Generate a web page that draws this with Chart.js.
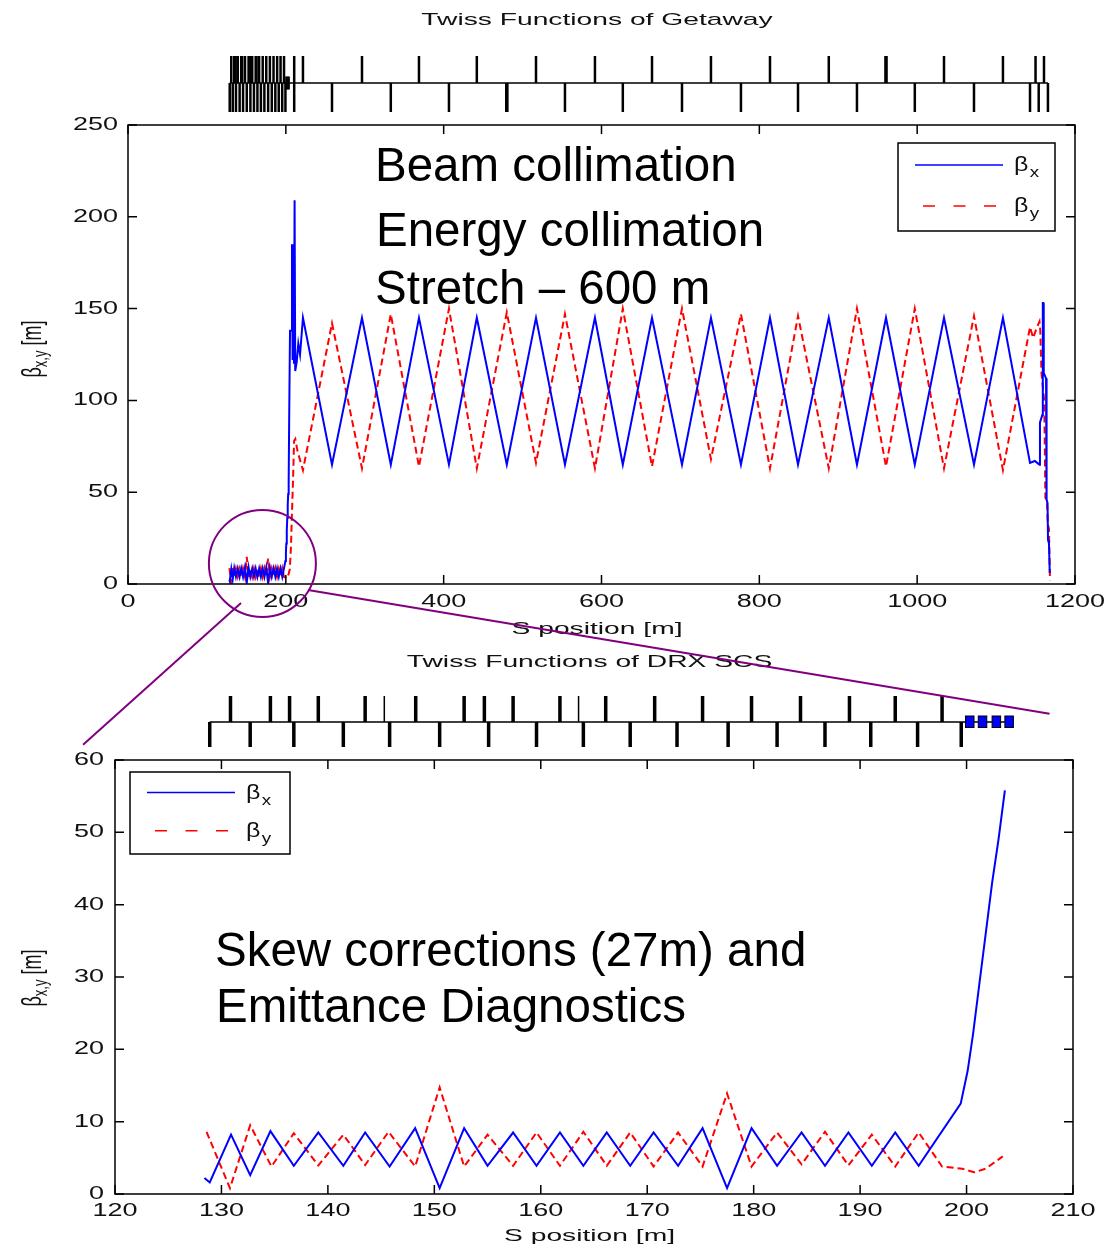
<!DOCTYPE html>
<html>
<head>
<meta charset="utf-8">
<title>Twiss Functions</title>
<script src="https://cdn.jsdelivr.net/npm/chart.js@4.4.1/dist/chart.umd.min.js"></script>
<style>
  html, body { margin: 0; padding: 0; background: #fff; }
  #wrap { position: relative; width: 1104px; height: 1247px; overflow: hidden; }
  canvas { position: absolute; left: 0; }
  #cTop { top: 0; }
  #cBot { top: 640px; }
  #cOver { top: 0; pointer-events: none; }
</style>
</head>
<body>
<div id="wrap">
  <canvas id="cTop" width="1104" height="640"></canvas>
  <canvas id="cBot" width="1104" height="607"></canvas>
  <canvas id="cOver" width="1104" height="1247"></canvas>
</div>
<script>
// ---------- DRX SCS section: s [m] and beta functions [m] ----------
const drxSx = [128.4, 128.9, 130.9, 132.7, 134.6, 136.8, 139.1, 141.45, 143.5, 145.8,
               148.2, 150.5, 152.8, 155.0, 157.4, 159.6, 161.8, 164.0, 166.2, 168.4,
               170.6, 172.9, 175.2, 177.5, 179.8, 182.2, 184.5, 186.7, 188.9, 191.1,
               193.3, 195.5, 199.45, 200.1, 200.6, 201.2, 201.8, 202.4, 203.0, 203.6];
const drxBetaX = [2.2, 1.6, 8.2, 2.6, 8.7, 3.9, 8.5, 3.9, 8.5, 3.8,
                  9.1, 0.8, 9.1, 3.9, 8.5, 3.9, 8.5, 3.9, 8.5, 3.9,
                  8.5, 3.9, 9.1, 0.8, 9.1, 3.9, 8.5, 3.9, 8.5, 3.9,
                  8.5, 3.9, 12.5, 17, 22, 29, 36, 43, 49, 55.8];
const drxSy = [128.6, 130.8, 132.7, 134.7, 136.8, 139.1, 141.45, 143.5, 145.7, 148.2,
               150.5, 152.8, 155.0, 157.4, 159.6, 161.8, 164.0, 166.2, 168.4, 170.6,
               172.9, 175.2, 177.5, 179.8, 182.2, 184.5, 186.7, 188.9, 191.1, 193.3,
               195.5, 197.7, 199.6, 200.7, 201.8, 203.4];
const drxBetaY = [8.6, 0.8, 9.5, 3.8, 8.4, 3.95, 8.2, 4.0, 8.6, 3.8,
                  14.75, 3.8, 8.2, 3.9, 8.5, 3.9, 8.6, 3.9, 8.5, 3.8,
                  8.5, 3.8, 13.9, 3.8, 8.5, 4.1, 8.6, 3.95, 8.2, 3.8,
                  8.5, 3.8, 3.5, 3.0, 3.5, 5.2];

// ---------- Getaway (collimation stretch): s [m] and beta functions [m] ----------
const gwSx = [204.3, 205.3, 207.0, 207.8, 208.6, 209.4, 210.3, 211.1, 211.9, 213.8,
              215.8, 218.0, 221.7, 258.5, 296.5, 333.0, 368.7, 406.7, 442.0, 480.0,
              517.0, 553.7, 591.7, 627.0, 664.0, 702.0, 738.7, 776.7, 813.5, 849.0,
              888.0, 923.7, 960.5, 997.0, 1034.0, 1072.0, 1108.7, 1143.0, 1149.0, 1155.0,
              1155.6, 1158.6, 1159.2, 1159.8, 1160.4, 1163.3, 1164.0, 1165.2, 1165.8, 1167.0,
              1168.0];
const gwBetaX = [93, 138, 138, 185, 122, 185, 120, 209, 116, 121,
                 131, 125, 145, 65, 145, 65, 145, 65, 145, 65,
                 145, 65, 145, 65, 145, 65, 145, 65, 145, 65,
                 145, 65, 145, 65, 145, 65, 145, 66, 67, 65,
                 88, 92, 153, 153, 115, 112, 46, 44, 24, 22,
                 6];
const gwSy = [205.0, 206.5, 207.5, 209.0, 210.5, 212.0, 215.0, 221.7, 258.5, 296.5,
              333.0, 368.7, 406.7, 442.0, 480.0, 517.0, 553.7, 591.7, 627.0, 664.0,
              702.0, 738.7, 776.7, 813.5, 849.0, 888.0, 923.7, 960.5, 997.0, 1034.0,
              1072.0, 1108.7, 1143.0, 1147.0, 1151.0, 1155.0, 1156.0, 1157.5, 1161.0, 1162.5,
              1164.5, 1165.5, 1167.0, 1168.3];
const gwBetaY = [8, 20, 35, 55, 78, 79, 72, 62, 142, 63,
                 147, 64, 150, 63, 148, 66, 147, 63, 150, 64,
                 150, 68, 147, 63, 146, 63, 150, 64, 150, 63,
                 146, 62, 140, 134, 139, 143, 138, 115, 100, 47,
                 45, 33, 30, 2];

// ---------- lattice element positions s [m] ----------
const drxQuadUpper = [130.85, 134.6, 136.4, 139.1, 143.5, 148.25, 152.8, 154.7, 157.4, 161.8,
                      166.1, 170.7, 175.2, 179.8, 184.4, 189.0, 193.3, 197.7];
const drxQuadUpperThin = [145.3, 163.55];
const drxQuadLower = [128.9, 132.7, 136.8, 141.45, 145.8, 150.5, 155.1, 159.6, 164.0, 168.4,
                      172.8, 177.6, 182.2, 186.7, 191.0, 195.4, 199.5];
const drxMonitors = [200.3, 201.5, 202.8, 204.0];
const gwQuadUpper = [210.6, 221.7, 296.5, 368.7, 442.0, 517.0, 591.7, 664.0, 738.7, 813.5,
                     888.0, 959.8, 961.2, 1034.0, 1108.7, 1150.0, 1160.7];
const gwQuadLower = [210.6, 258.5, 333.0, 406.7, 479.3, 480.7, 553.7, 627.0, 702.0, 776.7,
                     849.0, 923.7, 997.0, 1072.0, 1143.0, 1154.0, 1165.7];

// ---------- axis ticks ----------
const topXTicks = [0, 200, 400, 600, 800, 1000, 1200];
const topYTicks = [0, 50, 100, 150, 200, 250];
const botXTicks = [120, 130, 140, 150, 160, 170, 180, 190, 200, 210];
const botYTicks = [0, 10, 20, 30, 40, 50, 60];

const SANS = '"Liberation Sans", Arial, Helvetica, sans-serif';
const BLUE = '#0000ff', RED = '#ff0000', PURPLE = '#800080';

const toPoints = (s, b) => s.map((v, i) => ({ x: v, y: b[i] }));

// text stretched horizontally, like the exported figure fonts
function stretchText(ctx, str, x, y, align, sx, font) {
  ctx.save();
  ctx.font = font;
  ctx.textBaseline = 'middle';
  ctx.textAlign = 'left';
  const w = ctx.measureText(str).width * sx;
  const x0 = align === 'center' ? x - w / 2 : align === 'right' ? x - w : x;
  ctx.translate(x0, y);
  ctx.scale(sx, 1);
  ctx.fillText(str, 0, 0);
  ctx.restore();
}

// "β" with a subscript, starting at x, vertically centred on y
function betaText(ctx, x, y, sub) {
  ctx.save();
  ctx.fillStyle = '#111';
  ctx.textBaseline = 'alphabetic';
  ctx.translate(x, y);
  ctx.scale(1.25, 1);
  ctx.font = '20px ' + SANS;
  ctx.fillText('β', 0, 6);
  const w = ctx.measureText('β').width;
  ctx.font = '15px ' + SANS;
  ctx.fillText(sub, w + 1, 12);
  ctx.restore();
}

// rotated y-axis title "β_{x,y} [m]"
function yTitle(ctx, cx, cy) {
  ctx.save();
  ctx.translate(cx, cy);
  ctx.rotate(-Math.PI / 2);
  ctx.scale(1, 1.5);
  ctx.fillStyle = '#111';
  ctx.textBaseline = 'alphabetic';
  ctx.font = '18px ' + SANS;
  const wB = ctx.measureText('β').width;
  const wM = ctx.measureText(' [m]').width;
  ctx.font = '13px ' + SANS;
  const wS = ctx.measureText('x,y').width;
  let x = -(wB + wS + wM) / 2;
  ctx.font = '18px ' + SANS;
  ctx.fillText('β', x, 5);
  x += wB;
  ctx.font = '13px ' + SANS;
  ctx.fillText('x,y', x, 9);
  x += wS;
  ctx.font = '18px ' + SANS;
  ctx.fillText(' [m]', x, 5);
  ctx.restore();
}

// axes box, inward ticks, labels, titles and legend
function frameLayer(F) {
  return {
    id: 'frame',
    afterDraw(chart) {
      const ctx = chart.ctx, a = chart.chartArea;
      const xs = chart.scales.x, ys = chart.scales.y;
      ctx.save();
      ctx.strokeStyle = '#000';
      ctx.lineWidth = 1.5;
      ctx.strokeRect(a.left, a.top, a.right - a.left, a.bottom - a.top);
      ctx.beginPath();
      xs.ticks.forEach(t => {
        const x = xs.getPixelForValue(t.value);
        ctx.moveTo(x, a.bottom); ctx.lineTo(x, a.bottom - 9);
        ctx.moveTo(x, a.top); ctx.lineTo(x, a.top + 9);
      });
      ys.ticks.forEach(t => {
        const y = ys.getPixelForValue(t.value);
        ctx.moveTo(a.left, y); ctx.lineTo(a.left + 9, y);
        ctx.moveTo(a.right, y); ctx.lineTo(a.right - 9, y);
      });
      ctx.stroke();

      ctx.fillStyle = '#111';
      const tickFont = '18px ' + SANS;
      xs.ticks.forEach(t => stretchText(ctx, String(t.value), xs.getPixelForValue(t.value),
        a.bottom + F.xLabelGap, 'center', 1.5, tickFont));
      ys.ticks.forEach(t => stretchText(ctx, String(t.value), a.left - F.yLabelGap,
        ys.getPixelForValue(t.value), 'right', 1.5, tickFont));

      const midX = (a.left + a.right) / 2 - 4.5;
      stretchText(ctx, F.title, midX, F.titleY, 'center', 1.66, '17px ' + SANS);
      stretchText(ctx, 'S position [m]', midX, a.bottom + F.xTitleGap, 'center', 1.66, '17px ' + SANS);
      yTitle(ctx, 33, F.yTitleY);

      // legend
      const L = F.legend;
      const w = L.right - L.left, h = L.bottom - L.top;
      ctx.fillStyle = '#fff';
      ctx.fillRect(L.left, L.top, w, h);
      ctx.strokeStyle = '#000';
      ctx.lineWidth = 1.5;
      ctx.strokeRect(L.left, L.top, w, h);
      const y1 = L.top + h * 0.25, y2 = L.top + h * 0.715;
      ctx.lineWidth = 1.5;
      ctx.strokeStyle = BLUE;
      ctx.beginPath(); ctx.moveTo(L.left + 17, y1); ctx.lineTo(L.left + 105, y1); ctx.stroke();
      ctx.strokeStyle = RED;
      ctx.setLineDash([12, 18.5]);
      ctx.beginPath(); ctx.moveTo(L.left + 25, y2); ctx.lineTo(L.left + 105, y2); ctx.stroke();
      ctx.setLineDash([]);
      betaText(ctx, L.left + 116, y1, 'x');
      betaText(ctx, L.left + 116, y2, 'y');
      ctx.restore();
    }
  };
}

// element markers above the plot: beamline, quadrupole ticks, monitors
function latticeLayer(L) {
  return {
    id: 'lattice',
    afterDraw(chart) {
      const ctx = chart.ctx, xs = chart.scales.x;
      const px = v => xs.getPixelForValue(v);
      ctx.save();
      ctx.fillStyle = '#000';
      ctx.fillRect(px(L.from), L.lineY - 0.75, px(L.to) - px(L.from), 1.5);
      L.upper.forEach(s => ctx.fillRect(px(s) - L.w / 2, L.upTop, L.w, L.lineY - L.upTop));
      L.upperThin.forEach(s => ctx.fillRect(px(s) - 0.75, L.upTop, 1.5, L.lineY - L.upTop));
      L.lower.forEach(s => ctx.fillRect(px(s) - L.w / 2, L.lineY, L.w, L.downBottom - L.lineY));
      ctx.strokeStyle = '#000';
      ctx.lineWidth = 1;
      L.monitors.forEach(s => {
        const x0 = px(s - 0.4), x1 = px(s + 0.4);
        ctx.fillStyle = L.monColor;
        ctx.fillRect(x0, L.monTop, x1 - x0, L.monH);
        ctx.strokeRect(x0, L.monTop, x1 - x0, L.monH);
      });
      ctx.restore();
    }
  };
}

function makeChart(id, cfg) {
  const axis = (ticks, horizontal) => ({
    type: 'linear',
    min: ticks[0],
    max: ticks[ticks.length - 1],
    ticks: { display: false },
    grid: { display: false },
    border: { display: false },
    afterBuildTicks: s => { s.ticks = ticks.map(v => ({ value: v })); },
    afterFit: s => {
      if (horizontal) s.height = 0; else s.width = 0;
      s.paddingLeft = 0; s.paddingRight = 0; s.paddingTop = 0; s.paddingBottom = 0;
    }
  });
  return new Chart(document.getElementById(id), {
    type: 'line',
    data: {
      datasets: [
        { label: 'βx', data: cfg.bx, borderColor: BLUE, borderWidth: 2, pointRadius: 0,
          tension: 0, fill: false },
        { label: 'βy', data: cfg.by, borderColor: RED, borderWidth: 2, borderDash: [7, 4],
          pointRadius: 0, tension: 0, fill: false }
      ]
    },
    options: {
      responsive: false,
      animation: false,
      events: [],
      layout: { padding: cfg.pad },
      plugins: { legend: { display: false }, tooltip: { enabled: false }, title: { display: false } },
      scales: { x: axis(cfg.xTicks, true), y: axis(cfg.yTicks, false) }
    },
    plugins: [latticeLayer(cfg.lattice), frameLayer(cfg.frame)]
  });
}

// Getaway: full line, DRX section followed by the collimation stretch
const chartTop = makeChart('cTop', {
  bx: toPoints(drxSx.concat(gwSx), drxBetaX.concat(gwBetaX)),
  by: toPoints(drxSy.concat(gwSy), drxBetaY.concat(gwBetaY)),
  xTicks: topXTicks, yTicks: topYTicks,
  pad: { left: 128, top: 125, right: 29, bottom: 56 },
  lattice: {
    from: drxQuadLower[0], to: gwQuadLower[gwQuadLower.length - 1],
    lineY: 83, upTop: 56, downBottom: 112, w: 2.5,
    upper: drxQuadUpper.concat(gwQuadUpper), upperThin: drxQuadUpperThin,
    lower: drxQuadLower.concat(gwQuadLower),
    monitors: drxMonitors, monColor: '#000', monTop: 77, monH: 12
  },
  frame: {
    title: 'Twiss Functions of Getaway', titleY: 20,
    xLabelGap: 18, yLabelGap: 10, xTitleGap: 45, yTitleY: 349,
    legend: { left: 898, top: 143, right: 1055, bottom: 231 }
  }
});

// DRX SCS: skew correction and emittance diagnostics section
const chartBot = makeChart('cBot', {
  bx: toPoints(drxSx, drxBetaX),
  by: toPoints(drxSy, drxBetaY),
  xTicks: botXTicks, yTicks: botYTicks,
  pad: { left: 115, top: 120, right: 31, bottom: 53 },
  lattice: {
    from: drxQuadLower[0], to: drxMonitors[drxMonitors.length - 1] + 0.4,
    lineY: 82, upTop: 56, downBottom: 107, w: 3.5,
    upper: drxQuadUpper, upperThin: drxQuadUpperThin, lower: drxQuadLower,
    monitors: drxMonitors, monColor: BLUE, monTop: 76, monH: 11.5
  },
  frame: {
    title: 'Twiss Functions of DRX SCS', titleY: 22,
    xLabelGap: 17, yLabelGap: 11, xTitleGap: 42, yTitleY: 338,
    legend: { left: 130, top: 132, right: 290, bottom: 214 }
  }
});

// ---------- overlay: zoom circle, connecting lines and captions ----------
(function drawOverlay() {
  const ctx = document.getElementById('cOver').getContext('2d');
  const botTop = 640;
  const tp = (s, b) => [chartTop.scales.x.getPixelForValue(s), chartTop.scales.y.getPixelForValue(b)];
  const bp = (s, b) => [chartBot.scales.x.getPixelForValue(s), botTop + chartBot.scales.y.getPixelForValue(b)];

  ctx.strokeStyle = PURPLE;
  ctx.lineWidth = 2;
  const c = tp(170.3, 11.2);
  ctx.beginPath(); ctx.arc(c[0], c[1], 53.5, 0, Math.PI * 2); ctx.stroke();
  let p0 = tp(143.2, -10.3), p1 = bp(117.0, 62.1);
  ctx.beginPath(); ctx.moveTo(p0[0], p0[1]); ctx.lineTo(p1[0], p1[1]); ctx.stroke();
  p0 = tp(228.1, -3.3); p1 = bp(207.8, 66.4);
  ctx.beginPath(); ctx.moveTo(p0[0], p0[1]); ctx.lineTo(p1[0], p1[1]); ctx.stroke();

  ctx.fillStyle = '#000';
  ctx.font = '47.5px ' + SANS;
  ctx.textBaseline = 'alphabetic';
  ctx.textAlign = 'left';
  ctx.fillText('Beam collimation', 375, 181);
  ctx.fillText('Energy collimation', 376, 246);
  ctx.fillText('Stretch \u2013 600 m', 375, 304);
  ctx.fillText('Skew corrections (27m) and', 215, 966);
  ctx.fillText('Emittance Diagnostics', 216, 1022);
})();
</script>
</body>
</html>
